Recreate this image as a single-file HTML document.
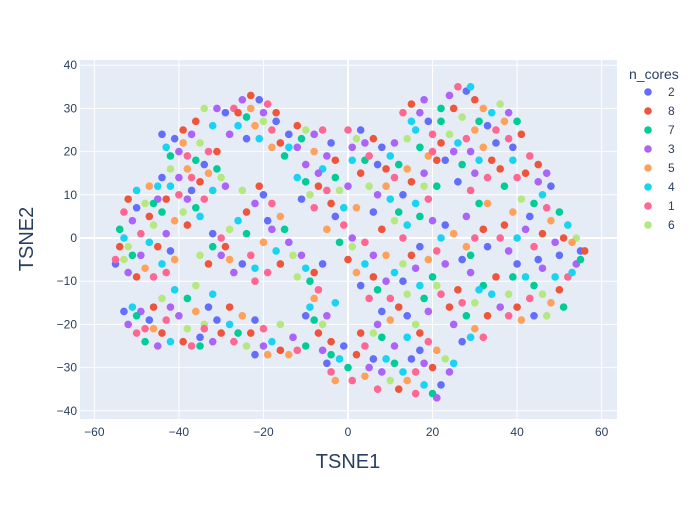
<!DOCTYPE html>
<html><head><meta charset="utf-8">
<style>
body{margin:0;background:#fff;}
svg{font-family:"Liberation Sans",Arial,sans-serif;}
</style></head>
<body>
<svg id="chart" width="700" height="500">
<rect x="0" y="0" width="700" height="500" fill="#fff"/>
<rect x="80" y="60" width="537" height="359" fill="#e5ecf6"/>
<g id="grid"></g>
<g id="marks"></g>
<g id="axes"></g>
<text x="348" y="468" font-size="20" fill="#2a3f5f" text-anchor="middle">TSNE1</text>
<text x="0" y="0" font-size="20" fill="#2a3f5f" text-anchor="middle" transform="translate(33,239) rotate(-90)">TSNE2</text>
<g id="legend">
<text x="629" y="79" font-size="14" fill="#2a3f5f">n_cores</text>
</g>
</svg>
<script>
const categories=["2","8","7","3","5","4","1","6"];
const colors=["#636efa","#EF553B","#00cc96","#ab63fa","#FFA15A","#19d3f3","#FF6692","#B6E880"];
const xTicks=[-60,-40,-20,0,20,40,60];
const yTicks=[-40,-30,-20,-10,0,10,20,30,40];
const points=[
[-55,-6,0],[-54,-2,1],[-54,2,2],[-53,6,6],[-52,9,1],[-50,11,5],[-47,12,4],[-45,9,3],[-44,6,2],[-46,3,7],[-43,1,3],[-42,-3,0],[-44,-6,5],[-46,-9,6],[-48,-7,4],[-50,-9,1],[-52,-8,3],[-53,-5,7],[-51,-4,2],[-49,1,6],[-47,-1,5],[-41,-5,4],[-45,-2,1],[-51,4,3],[-48,8,7],[-55,-5,6],
[-53,-17,0],[-52,-20,3],[-50,-22,6],[-48,-24,2],[-45,-25,3],[-42,-24,5],[-39,-24,1],[-37,-25,6],[-35,-23,0],[-34,-20,7],[-36,-17,4],[-38,-14,2],[-41,-12,5],[-44,-14,7],[-46,-16,1],[-49,-17,3],[-43,-19,6],[-40,-18,3],[-46,-21,4],[-50,-18,2],[-33,-16,0],[-36,-11,7],[-32,-13,5],[-44,-22,1],
[-43,21,5],[-41,23,0],[-39,25,1],[-37,24,3],[-35,22,7],[-33,20,6],[-36,18,2],[-38,16,4],[-40,14,3],[-42,12,5],[-40,10,6],[-37,11,0],[-35,13,1],[-33,15,4],[-31,16,2],[-30,14,7],[-29,12,3],[-32,11,5],[-34,9,6],[-36,7,2],[-39,6,7],[-41,4,4],[-38,3,1],[-42,16,7],[-44,14,0],[-36,27,1],[-34,30,7],[-31,30,3],[-29,29,0],[-32,26,5],[-38,19,6],[-40,20,3],[-46,8,2],
[-27,30,6],[-25,32,3],[-23,33,1],[-21,32,0],[-19,31,6],[-17,29,1],[-20,27,7],[-22,26,4],[-24,28,2],[-26,26,5],[-28,24,3],[-24,23,0],[-21,23,5],[-18,25,6],[-16,22,1],[-14,24,0],[-12,21,3],[-15,19,2],[-18,21,4],[-12,26,1],[-10,25,7],[-8,24,3],
[-32,-2,2],[-30,0,6],[-28,2,7],[-26,4,5],[-24,6,1],[-22,8,3],[-20,10,0],[-18,8,6],[-16,5,4],[-15,2,2],[-14,-1,3],[-13,-4,7],[-16,-6,1],[-19,-8,6],[-22,-7,5],[-25,-6,0],[-28,-5,4],[-30,-4,3],[-33,-6,1],[-35,-4,7],[-32,1,0],[-24,1,2],[-20,-1,4],[-18,2,3],[-22,-10,6],[-10,-7,5],[-8,-8,1],[-12,-9,7],[-6,-6,0],[-25,11,7],
[-34,-21,6],[-32,-24,3],[-30,-22,1],[-28,-20,5],[-26,-22,2],[-24,-25,7],[-22,-27,0],[-20,-25,3],[-18,-24,5],[-16,-26,1],[-14,-27,4],[-12,-26,6],[-10,-25,2],[-20,-21,6],[-22,-19,0],[-25,-18,4],[-28,-16,1],[-16,-20,7],
[-10,13,2],[-9,10,7],[-8,7,6],[-7,12,1],[-6,16,5],[-5,19,3],[-4,22,0],[-6,25,6],[-8,20,4],[-3,14,2],[-2,11,7],[-4,8,1],[-10,17,3],[-12,14,5],[-3,5,0],[-1,3,6],[-5,2,4],[1,0,3],[-2,-1,2],
[-9,-16,5],[-8,-19,2],[-7,-22,1],[-6,-26,3],[-5,-29,0],[-4,-31,6],[-3,-33,4],[-2,-28,7],[-4,-24,1],[-5,-18,3],[-3,-15,5],[-7,-12,6],[-10,-18,0],
[0,25,6],[2,23,7],[4,22,3],[6,23,1],[8,21,0],[10,19,5],[12,17,2],[11,14,6],[9,12,4],[7,10,3],[5,12,7],[3,15,1],[1,18,5],[4,18,2],[7,17,0],[13,29,6],[15,31,1],[17,29,3],[19,27,0],[16,25,5],[14,23,7],[17,21,2],[19,19,4],[20,24,6],[18,15,3],[15,13,1],[13,10,0],[16,8,5],[19,9,6],[21,12,2],[2,7,4],[0,12,3],
[0,-5,1],[2,-8,4],[3,-11,0],[5,-14,6],[7,-12,2],[9,-10,3],[11,-8,5],[13,-6,7],[15,-4,1],[17,-2,0],[19,-5,4],[21,-3,6],[23,-6,3],[20,-9,2],[17,-11,5],[14,-13,7],[12,-16,1],[10,-19,4],[8,-17,0],[6,-4,3],[4,-1,6],[8,2,1],[11,4,7],[14,3,5],[17,5,2],[20,4,3],[23,3,0],[25,1,4],[22,-13,6],[24,-16,1],[19,-17,3],[16,-20,7],
[-2,-28,5],[0,-30,2],[2,-27,1],[4,-25,6],[6,-28,0],[8,-31,3],[10,-33,7],[12,-35,1],[14,-33,4],[16,-31,6],[18,-34,5],[20,-36,2],[22,-34,0],[24,-31,3],[23,-28,7],[21,-26,4],[19,-24,6],[17,-22,1],[14,-23,5],[11,-25,3],[8,-23,2],[6,-22,7],[4,-32,4],[7,-35,6],[9,-28,5],[15,-28,0],[18,-29,3],
[22,30,2],[24,33,3],[26,35,6],[28,34,0],[30,32,1],[32,30,4],[34,29,5],[36,31,7],[38,29,3],[40,27,2],[41,24,1],[38,23,6],[35,22,0],[32,21,4],[29,20,3],[26,22,5],[24,24,7],[22,22,1],[20,20,6],[23,18,0],[27,17,2],[30,15,3],[33,14,6],[36,16,1],[39,18,5],[30,25,4],[27,28,7],[33,26,0],[29,11,6],[31,8,2],[28,5,3],
[43,19,6],[45,17,1],[47,15,3],[48,12,0],[46,10,5],[44,8,2],[41,9,7],[39,6,4],[37,3,1],[36,0,6],[38,-3,3],[40,-6,0],[42,-9,5],[44,-11,2],[46,-13,7],[48,-15,4],[50,-12,1],[52,-9,6],[54,-6,3],[55,-3,0],[54,0,7],[52,3,5],[50,6,2],[48,4,4],[46,1,1],[44,-2,6],[42,2,3],[50,-4,0],[53,-8,5],[55,-5,2],[40,-16,1],[38,-18,6],[36,-16,3],[41,-19,4],[44,-18,0],[47,-18,7],[34,-13,5],[32,-11,2],[56,-3,1],
[28,-2,4],[30,0,6],[32,2,1],[27,-5,0],[29,-8,3],[31,-12,5],[30,-15,7],[28,-18,2],[30,-21,4],[32,-23,6],[26,-12,1],[25,-20,3],[27,-24,0],
[-53,0,5],[-52,-2,7],[-50,7,0],[-49,-4,3],[-47,5,1],[-45,12,5],[-43,-8,6],
[-51,-16,5],[-47,-19,0],[-42,-16,3],[-38,-21,7],[-35,-25,2],[-48,-21,6],
[-44,24,0],[-42,19,2],[-39,22,4],[-37,14,6],[-34,17,0],[-31,20,1],[-38,9,3],[-35,5,5],[-43,9,1],
[-26,29,1],[-23,30,4],[-20,29,3],[-17,27,0],[-14,21,5],[-11,23,2],
[-29,-2,1],[-27,-8,3],[-23,-4,6],[-19,4,0],[-17,-3,5],[-21,12,1],[-11,-4,3],[-9,-10,2],
[-31,-19,0],[-27,-24,6],[-23,-22,1],[-19,-27,4],[-13,-23,3],
[-11,9,0],[-7,15,3],[-3,18,1],[-5,11,6],[-1,7,5],
[-8,-14,4],[-6,-20,7],[-4,-27,2],[-1,-25,0],
[1,21,3],[3,25,0],[5,19,6],[9,16,1],[11,22,3],[14,16,4],[12,6,2],[18,12,7],[21,18,1],[15,27,5],[18,32,3],[22,27,2],[10,9,5],[6,6,0],
[1,-2,7],[4,-6,5],[6,-9,1],[10,-14,6],[13,-10,0],[16,-7,3],[18,-14,2],[21,-11,7],[22,0,5],[13,0,6],[9,-4,4],[7,-20,3],[14,-18,0],
[1,-33,6],[5,-30,3],[11,-29,2],[13,-31,5],[17,-26,0],[20,-30,1],[16,-36,6],[21,-37,3],[25,-29,5],[3,-22,1],
[25,30,1],[29,35,5],[31,27,2],[35,25,6],[37,27,4],[39,21,0],[25,20,3],[28,23,6],[31,18,5],[34,18,1],[37,12,2],[40,14,6],[26,13,0],[33,8,4],
[42,15,1],[45,13,3],[47,7,6],[43,5,0],[40,0,5],[39,-9,2],[43,-14,6],[46,-7,3],[49,-9,5],[51,0,1],[53,-1,4],[49,-1,3],[45,-5,0],[51,-16,2],[38,-13,7],[35,-9,1],
[33,-2,0],[29,-4,2],[27,-15,6],[33,-18,1],[29,-23,5]
];
const NS="http://www.w3.org/2000/svg";
const xs=v=>348+v*4.2275;
const ys=v=>238-v*4.32;
const grid=document.getElementById('grid'),axes=document.getElementById('axes'),marks=document.getElementById('marks'),legend=document.getElementById('legend');
function mk(tag,attrs,parent){const e=document.createElementNS(NS,tag);for(const k in attrs)e.setAttribute(k,attrs[k]);parent.appendChild(e);return e;}
xTicks.forEach(t=>{
  const l=mk('line',{x1:xs(t),x2:xs(t),y1:60,y2:419,stroke:'#fff','stroke-width':t===0?2:1},grid);
  
  
  const tx=mk('text',{x:xs(t),y:436,'font-size':12,fill:'#2a3f5f','text-anchor':'middle'},axes);
  tx.textContent=(t<0?'\u2212'+(-t):t);
  
  
});
yTicks.forEach(t=>{
  const l=mk('line',{x1:80,x2:617,y1:ys(t),y2:ys(t),stroke:'#fff','stroke-width':t===0?2:1},grid);
  
  
  const tx=mk('text',{x:77,y:ys(t)+4,'font-size':12,fill:'#2a3f5f','text-anchor':'end'},axes);
  tx.textContent=(t<0?'\u2212'+(-t):t);
  
  
});
points.forEach(p=>{
  const c=mk('circle',{cx:xs(p[0]),cy:ys(p[1]),r:3.8,fill:colors[p[2]]},marks);
  
  
});
categories.forEach((c,i)=>{
  const y=92+i*19;
  const m=mk('circle',{cx:648,cy:y,r:3.8,fill:colors[i]},legend);
  
  
  const t=mk('text',{x:668,y:y+4,'font-size':12,fill:'#2a3f5f'},legend);
  t.textContent=c;
  
  
});
</script>
</body></html>
